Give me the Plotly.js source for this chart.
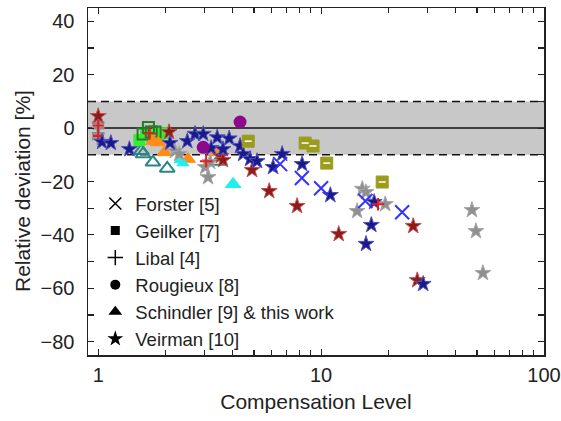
<!DOCTYPE html>
<html><head><meta charset="utf-8">
<script src="https://cdn.plot.ly/plotly-3.0.1.min.js"></script>
<style>html,body{margin:0;padding:0;background:#fff}#c{width:561px;height:421px}</style>
</head><body><div id="c"></div>
<script>
// ---- data ----
const veirmanNavyX = [1.04,1.14,1.38,2.10,2.51,2.72,2.96,3.21,3.42,3.63,3.87,4.33,4.47,4.80,5.16,6.09,6.69,8.22,11.0,17.3,16.8,15.9,28.7];
const veirmanNavyY = [-5.2,-5.6,-7.9,-5.6,-4.9,-2.2,-2.2,-7.5,-3.5,-7.9,-3.9,-6.7,-9.7,-11.6,-12.4,-14.6,-9.7,-13.5,-25.1,-27.7,-36.3,-43.4,-58.4];
const veirmanRedX = [1.0,2.08,3.55,3.63,4.9,5.85,7.8,12.0,25.9,27.0];
const veirmanRedY = [4.5,-1.5,-10.5,-12.0,-15.7,-23.6,-29.2,-39.7,-36.7,-57.0];
const veirmanGrayX = [2.21,2.31,3.02,3.11,3.18,15.3,15.9,14.5,19.4,47.5,49.5,53.2];
const veirmanGrayY = [-8.6,-9.7,-14.6,-18.4,-12.7,-22.8,-24.0,-31.1,-28.5,-30.7,-38.6,-54.3];
const forsterX = [6.55,8.2,10.0,15.8,23.1];
const forsterY = [-13.5,-18.7,-22.5,-27.3,-31.5];
const geilkerOliveX = [4.71,8.48,9.2,10.6,18.8];
const geilkerOliveY = [-4.9,-5.6,-6.7,-13.1,-20.2];
const geilkerGreenX = [1.53,1.64,1.75,1.86,1.96];
const geilkerGreenY = [-4.5,-2.6,-3.5,-2.2,-1.9];
const geilkerDarkGreenX = [1.68,1.73,1.59,1.80];
const geilkerDarkGreenY = [0.2,-1.5,-2.2,-1.5];
const libalRedX = [1.0,1.0,1.7,3.05,18.0];
const libalRedY = [1.0,-3.0,-2.0,-12.4,-28.5];
const libalGrayX = [1.0,1.0,1.0,1.0];
const libalGrayY = [2.0,0.0,-2.0,-4.0];
const rougieuxX = [4.33,2.96];
const rougieuxY = [2.3,-7.2];
const schindlerTealX = [1.56,1.59,1.76,2.04,3.45];
const schindlerTealY = [-8.5,-9.7,-12.8,-15.1,-12.5];
const schindlerOrangeX = [1.76,1.86,1.98,2.53,3.35];
const schindlerOrangeY = [-4.9,-5.4,-9.1,-11.6,-9.1];
const schindlerCyanX = [2.40,2.33];
const schindlerCyanY = [-13.2,-12.0];
const schindlerCyanBigX = [4.03];
const schindlerCyanBigY = [-21.0];
const legendNames = ['Forster [5]','Geilker [7]','Libal [4]','Rougieux [8]','Schindler [9] & this work','Veirman [10]'];
const xTickVals = [1,10,100];
const xTickText = ['1','10','100'];
const xMinorVals = [2,3,4,5,6,7,8,9,20,30,40,50,60,70,80,90];
const yTickVals = [-80,-60,-40,-20,0,20,40];
const bandLow = -10, bandHigh = 10;

function pts(x,y,marker){return {type:'scatter',mode:'markers',x:x,y:y,marker:marker,showlegend:false,hoverinfo:'skip'};}
const traces = [
  pts(libalGrayX,libalGrayY,{symbol:'cross-thin-open',size:9,color:'#8c8c8c',line:{color:'#8c8c8c',width:3}}),
  pts(libalRedX.slice(0,2),libalRedY.slice(0,2),{symbol:'cross-thin-open',size:8,color:'#e02020',line:{color:'#e02020',width:2}}),
  pts(schindlerTealX,schindlerTealY,{symbol:'triangle-up-open',size:13,color:'#2a8585',line:{color:'#2a8585',width:2}}),
  pts(geilkerGreenX,geilkerGreenY,{symbol:'square',size:11,color:'#33ee33',line:{color:'#33ee33',width:1}}),
  pts(geilkerDarkGreenX,geilkerDarkGreenY,{symbol:'square-open',size:11,color:'#2a7a2a',line:{color:'#2a7a2a',width:2}}),
  pts(schindlerOrangeX,schindlerOrangeY,{symbol:'triangle-up',size:13,color:'#ff8c1a',line:{color:'#ff8c1a',width:1}}),
  pts(schindlerCyanX,schindlerCyanY,{symbol:'triangle-up',size:12,color:'#22eeee',line:{width:0}}),
  pts(schindlerCyanBigX,schindlerCyanBigY,{symbol:'triangle-up',size:15,color:'#22eeee',line:{width:0}}),
  pts(veirmanGrayX,veirmanGrayY,{symbol:'star',size:12,color:'#909090',line:{color:'#a8a8a8',width:1}}),
  pts(veirmanRedX,veirmanRedY,{symbol:'star',size:12,color:'#8e1a1a',line:{color:'#c05050',width:1}}),
  pts(veirmanNavyX,veirmanNavyY,{symbol:'star',size:12,color:'#1a1a8a',line:{color:'#5050c0',width:1}}),
  pts(geilkerOliveX,geilkerOliveY,{symbol:'square',size:12,color:'#9c9c1c',line:{color:'#9c9c1c',width:1}}),
  pts(geilkerOliveX,geilkerOliveY,{symbol:'line-ew-open',size:5,color:'#ffffff',line:{color:'#ffffff',width:1.5}}),
  pts(rougieuxX,rougieuxY,{symbol:'circle',size:13,color:'#8b0a8b',line:{width:0}}),
  pts(forsterX,forsterY,{symbol:'x-thin-open',size:14,color:'#3333ff',line:{color:'#3333ff',width:2}}),
  pts(libalRedX.slice(2),libalRedY.slice(2),{symbol:'cross-thin-open',size:9,color:'#e02020',line:{color:'#e02020',width:2}})
];
const legSyms = [
  {symbol:'x-thin-open',size:12,color:'#000',line:{color:'#000',width:1.5}},
  {symbol:'square',size:9,color:'#000',line:{width:0}},
  {symbol:'cross-thin-open',size:11,color:'#000',line:{color:'#000',width:1.5}},
  {symbol:'circle',size:10,color:'#000',line:{width:0}},
  {symbol:'triangle-up',size:12,color:'#000',line:{width:0}},
  {symbol:'star',size:12,color:'#000',line:{width:0}}
];
legendNames.forEach((n,i)=>traces.push({type:'scatter',mode:'markers',x:[null],y:[null],name:n,marker:legSyms[i],showlegend:true}));

const fam = 'Liberation Sans, Arial, sans-serif';
const axFont = {family:fam,size:20,color:'#222'};
const layout = {
  width:561,height:421,
  margin:{l:88,r:17,t:8,b:66},
  paper_bgcolor:'#fff',plot_bgcolor:'#fff',
  showlegend:true,
  legend:{x:0.016,y:0.49,xanchor:'left',yanchor:'top',bgcolor:'rgba(0,0,0,0)',font:{family:fam,size:18.5,color:'#222'},tracegroupgap:0,itemwidth:30},
  xaxis:{type:'log',range:[Math.log10(0.9),2],tickmode:'array',tickvals:xTickVals,ticktext:xTickText,
    ticks:'inside',ticklen:6,tickwidth:1.2,tickcolor:'#222',mirror:'ticks',showline:true,linecolor:'#222',linewidth:1.5,
    showgrid:false,zeroline:false,tickfont:axFont,ticklabelstandoff:1,
    minor:{tickmode:'array',tickvals:xMinorVals,ticks:'inside',ticklen:5,tickwidth:1.2,tickcolor:'#222',showgrid:false},
    title:{text:'Compensation Level',font:{family:fam,size:21,color:'#222'},standoff:10}},
  yaxis:{range:[-85,45],tickmode:'array',tickvals:yTickVals,
    ticks:'inside',ticklen:6,tickwidth:1.2,tickcolor:'#222',mirror:'ticks',showline:true,linecolor:'#222',linewidth:1.5,
    showgrid:false,zeroline:false,tickfont:axFont,ticklabelstandoff:8,
    minor:{dtick:10,ticks:'inside',ticklen:6,tickwidth:1.2,tickcolor:'#222',showgrid:false}},
  annotations:[{text:'Relative deviation [%]',xref:'paper',yref:'paper',x:-65/456,y:(355-191)/347,xanchor:'center',yanchor:'middle',
    textangle:-90,showarrow:false,font:{family:fam,size:21,color:'#222'}}],
  shapes:[
    {type:'rect',xref:'paper',x0:0,x1:1,yref:'y',y0:bandLow,y1:bandHigh,fillcolor:'#c8c8c8',line:{width:0},layer:'below'},
    {type:'line',xref:'paper',x0:0,x1:1,yref:'y',y0:bandHigh,y1:bandHigh,line:{color:'#111',width:1.5,dash:'8px,5px'},layer:'below'},
    {type:'line',xref:'paper',x0:0,x1:1,yref:'y',y0:bandLow,y1:bandLow,line:{color:'#111',width:1.5,dash:'8px,5px'},layer:'below'},
    {type:'line',xref:'paper',x0:0,x1:1,yref:'y',y0:0,y1:0,line:{color:'#111',width:1.5},layer:'below'}
  ]
};
Plotly.newPlot('c',traces,layout,{displayModeBar:false,staticPlot:true});
</script></body></html>
